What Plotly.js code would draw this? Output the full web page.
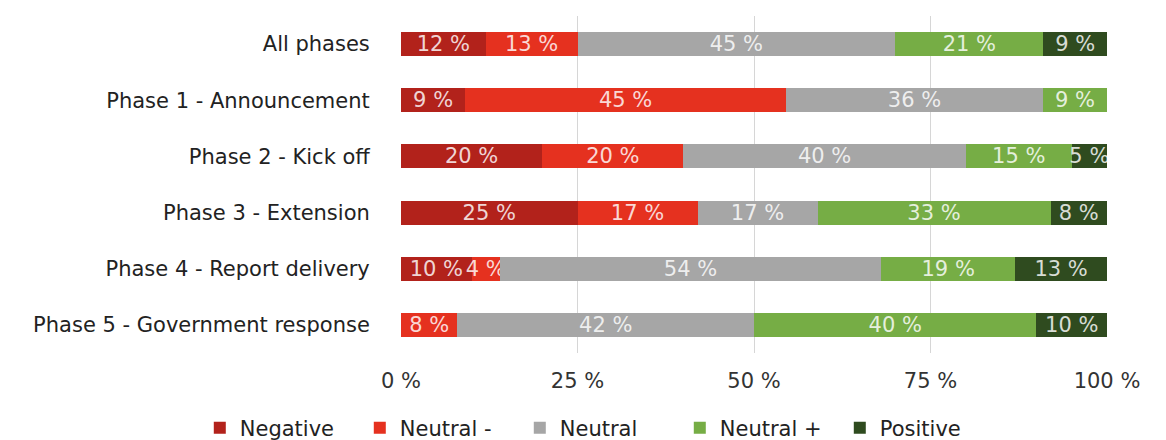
<!DOCTYPE html>
<html>
<head>
<meta charset="utf-8">
<script src="https://cdn.plot.ly/plotly-3.0.1.min.js"></script>
<style>html,body{margin:0;padding:0;background:#fff;}#chart{width:1166px;height:440px;}</style>
</head>
<body>
<div id="chart"></div>
<script>
const categories = ["All phases", "Phase 1 - Announcement", "Phase 2 - Kick off", "Phase 3 - Extension", "Phase 4 - Report delivery", "Phase 5 - Government response"];
const seriesNames = ["Negative", "Neutral -", "Neutral", "Neutral +", "Positive"];
const negative  = [12, 9, 20, 25, 10, 0];
const neutralMinus = [13, 45, 20, 17, 4, 8];
const neutral   = [45, 36, 40, 17, 54, 42];
const neutralPlus = [21, 9, 15, 33, 19, 40];
const positive  = [9, 0, 5, 8, 13, 10];
const xTicks = [0, 25, 50, 75, 100];
const colors = ["#b2221b", "#e5311f", "#a6a6a6", "#76ad45", "#2f4b1f"];

const seriesValues = [negative, neutralMinus, neutral, neutralPlus, positive];
const FONT = "DejaVu Sans, Liberation Sans, Arial, sans-serif";

const traces = seriesValues.map((vals, i) => ({
  type: "bar",
  orientation: "h",
  name: seriesNames[i],
  y: categories,
  x: vals,
  marker: {color: colors[i], line: {width: 0}},
  text: vals.map(v => v ? v + " %" : ""),
  textposition: "inside",
  insidetextanchor: "middle",
  textangle: 0,
  textfont: {family: FONT, size: 21, color: "rgba(255,255,255,0.82)"},
  hoverinfo: "name+x"
}));

const layout = {
  width: 1166,
  height: 440,
  margin: {l: 401, r: 59, t: 16, b: 87, autoexpand: false},
  paper_bgcolor: "#ffffff",
  plot_bgcolor: "#ffffff",
  barmode: "stack",
  barnorm: "percent",
  bargap: 0.57,
  uniformtext: {mode: "show", minsize: 21},
  font: {family: FONT, size: 21, color: "#222"},
  xaxis: {
    range: [0, 100],
    tickvals: xTicks,
    ticktext: xTicks.map(t => t + " %"),
    showgrid: true,
    gridcolor: "#d6d6d6",
    gridwidth: 1,
    zeroline: false,
    showline: false,
    ticks: "outside",
    ticklen: 9,
    tickcolor: "rgba(0,0,0,0)",
    tickfont: {family: FONT, size: 21, color: "#333"},
    automargin: false,
    fixedrange: true
  },
  yaxis: {
    autorange: "reversed",
    showgrid: false,
    zeroline: false,
    showline: false,
    ticks: "outside",
    ticklen: 26,
    tickcolor: "rgba(0,0,0,0)",
    tickfont: {family: FONT, size: 21, color: "#222"},
    automargin: false,
    fixedrange: true
  },
  showlegend: true,
  legend: {
    orientation: "h",
    traceorder: "normal",
    xref: "paper",
    yref: "paper",
    x: -0.285,
    xanchor: "left",
    y: -0.2226,
    yanchor: "middle",
    entrywidth: 115,
    font: {family: FONT, size: 21, color: "#222"},
    bgcolor: "rgba(0,0,0,0)"
  }
};

Plotly.newPlot("chart", traces, layout, {displayModeBar: false, staticPlot: true});
</script>
</body>
</html>
